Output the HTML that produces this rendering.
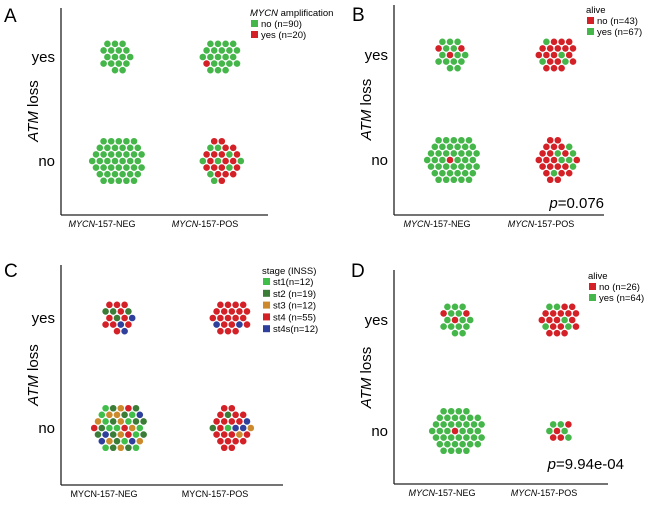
<!DOCTYPE html>
<html><head><meta charset="utf-8"><style>
html,body{margin:0;padding:0;background:#fff;}
svg{display:block;font-family:"Liberation Sans",sans-serif;}
</style></head><body>
<svg id="fig" width="650" height="511" viewBox="0 0 650 511"></svg>
<script>
// ---- data (dot counts per category, per cluster: NEG-yes, POS-yes, NEG-no, POS-no) ----
const groups = ["MYCN-157-NEG","MYCN-157-POS"];
const atmLevels = ["yes","no"];
const catsA = ["no (n=90)","yes (n=20)"];
const dataA = [[17,0],[21,1],[43,0],[9,19]];
const catsB = ["no (n=43)","yes (n=67)"];
const dataB = [[3,14],[18,4],[1,42],[21,7]];
const catsC = ["st1(n=12)","st2 (n=19)","st3 (n=12)","st4 (n=55)","st4s(n=12)"];
const dataC = [[0,4,0,10,3],[0,0,0,20,2],[12,13,10,4,4],[1,2,2,20,3]];
const catsD = ["no (n=26)","yes (n=64)"];
const dataD = [[3,14],[17,5],[1,40],[4,5]];
const pB = "0.076";
const pD = "9.94e-04";

const NS="http://www.w3.org/2000/svg";
const svg=document.getElementById('fig');
const G="#45b649", R="#d42027";
const SP=7.6, DR=3.3;
function mk(tag,attrs,parent){const e=document.createElementNS(NS,tag);for(const k in attrs)e.setAttribute(k,attrs[k]);(parent||svg).appendChild(e);return e;}
function txt(s,attrs,parent){const e=mk('text',attrs,parent);e.textContent=s;return e;}

const lattice=[];
for(let r=-8;r<=8;r++)for(let c=-8;c<=8;c++){
  const x=c+(Math.abs(r)%2?0.5:0), y=r*Math.sqrt(3)/2;
  lattice.push([x,y,Math.hypot(x-0.25,y+0.01)+Math.atan2(y,x)*0.0001]);
}
lattice.sort((a,b)=>a[2]-b[2]);

function gcd(a,b){return b?gcd(b,a%b):a;}

function panel(p){
  const g=mk('g',{},svg);
  
  
  const l=txt(p.letter,{x:p.lx,y:p.ly,'font-size':19},g);
  
  const ya=mk('line',{x1:p.ax,y1:p.top,x2:p.ax,y2:p.bot,stroke:'#222','stroke-width':1.3},g);
  
  const xa=mk('line',{x1:p.ax,y1:p.bot,x2:p.right,y2:p.bot,stroke:'#222','stroke-width':1.3},g);
  
  const yPos={yes:p.yYes,no:p.yNo};
  atmLevels.forEach(lv=>{
    const t=txt(lv,{x:p.ax-6,y:yPos[lv]+5,'font-size':15,'text-anchor':'end'},g);
    
  });
  const yt=txt('',{x:0,y:0,'font-size':15,'text-anchor':'middle',transform:`translate(${p.ax-23},${(p.yYes+p.yNo)/2+2}) rotate(-90)`},g);
  
  const ti=mk('tspan',{'font-style':'italic'},yt);ti.textContent='ATM';
  const tl=mk('tspan',{},yt);tl.textContent=' loss';
  const xPos=[p.xNeg,p.xPos];
  groups.forEach((gname,i)=>{
    const t=txt('',{x:xPos[i]-13,y:p.bot+12,'font-size':9,'text-anchor':'middle'},g);
    
    const parts=gname.split('-');
    const a=mk('tspan',p.italX?{'font-style':'italic'}:{},t);a.textContent=parts[0];
    const b=mk('tspan',{},t);b.textContent='-'+parts.slice(1).join('-');
  });
  const centers=[[p.xNeg,p.yYes],[p.xPos,p.yYes],[p.xNeg,p.yNo],[p.xPos,p.yNo]];
  const names=['neg-yes','pos-yes','neg-no','pos-no'];
  p.data.forEach((counts,ci)=>{
    const n=counts.reduce((a,b)=>a+b,0);
    const cols=[];counts.forEach((c,k)=>{for(let j=0;j<c;j++)cols.push(p.colors[k]);});
    const cg=mk('g',{},g);
    
    let step=7;while(n>0&&gcd(step,n)!==1)step++;
    for(let i=0;i<n;i++){
      const pt=lattice[(i*step)%n];
      const c=mk('circle',{cx:centers[ci][0]+pt[0]*SP,cy:centers[ci][1]+pt[1]*SP,r:DR,fill:cols[i]},cg);
      
    }
  });
  const lg=mk('g',{},g);
  
  const lt=txt('',{x:p.legX,y:p.legY,'font-size':9.5},lg);
  
  if(p.legItal){const a=mk('tspan',{'font-style':'italic'},lt);a.textContent=p.legItal;}
  const b=mk('tspan',{},lt);b.textContent=p.legTitle;
  p.cats.forEach((c,k)=>{
    const y=p.legY+4+k*p.legStep;
    const e=mk('g',{},lg);
    
    mk('rect',{x:p.legX+1,y:y,width:7,height:7,fill:p.colors[k]},e);
    txt(c,{x:p.legX+11,y:y+7,'font-size':9.5},e);
  });
  if(p.pval){
    const t=txt('',{x:p.pX,y:p.pY,'font-size':15,'text-anchor':'end'},g);
    
    const a=mk('tspan',{'font-style':'italic'},t);a.textContent='p';
    const b2=mk('tspan',{},t);b2.textContent='='+p.pval;
  }
}

panel({letter:'A',lx:4,ly:22,ax:61,top:8,bot:215,right:268,yYes:57,yNo:161,xNeg:115,xPos:218,
  data:dataA,colors:[G,R],cats:catsA,legX:250,legY:16,legStep:11,legTitle:' amplification',legItal:'MYCN',italX:true});
panel({letter:'B',lx:352,ly:21,ax:394,top:5,bot:215,right:604,yYes:55,yNo:160,xNeg:450,xPos:554,
  data:dataB,colors:[R,G],cats:catsB,legX:586,legY:13,legStep:11,legTitle:'alive',italX:true,pval:pB,pX:604,pY:208});
panel({letter:'C',lx:4,ly:277,ax:61,top:265,bot:485,right:283,yYes:318,yNo:428,xNeg:117,xPos:228,
  data:dataC,colors:["#3fbf4a","#3b7d37","#cc8a2c","#d42027","#2e409c"],cats:catsC,legX:262,legY:274,legStep:11.8,legTitle:'stage (INSS)',italX:false});
panel({letter:'D',lx:351,ly:277,ax:394,top:270,bot:484,right:608,yYes:320,yNo:431,xNeg:455,xPos:557,
  data:dataD,colors:[R,G],cats:catsD,legX:588,legY:279,legStep:11,legTitle:'alive',italX:true,pval:pD,pX:624,pY:469});
</script>
</body></html>
